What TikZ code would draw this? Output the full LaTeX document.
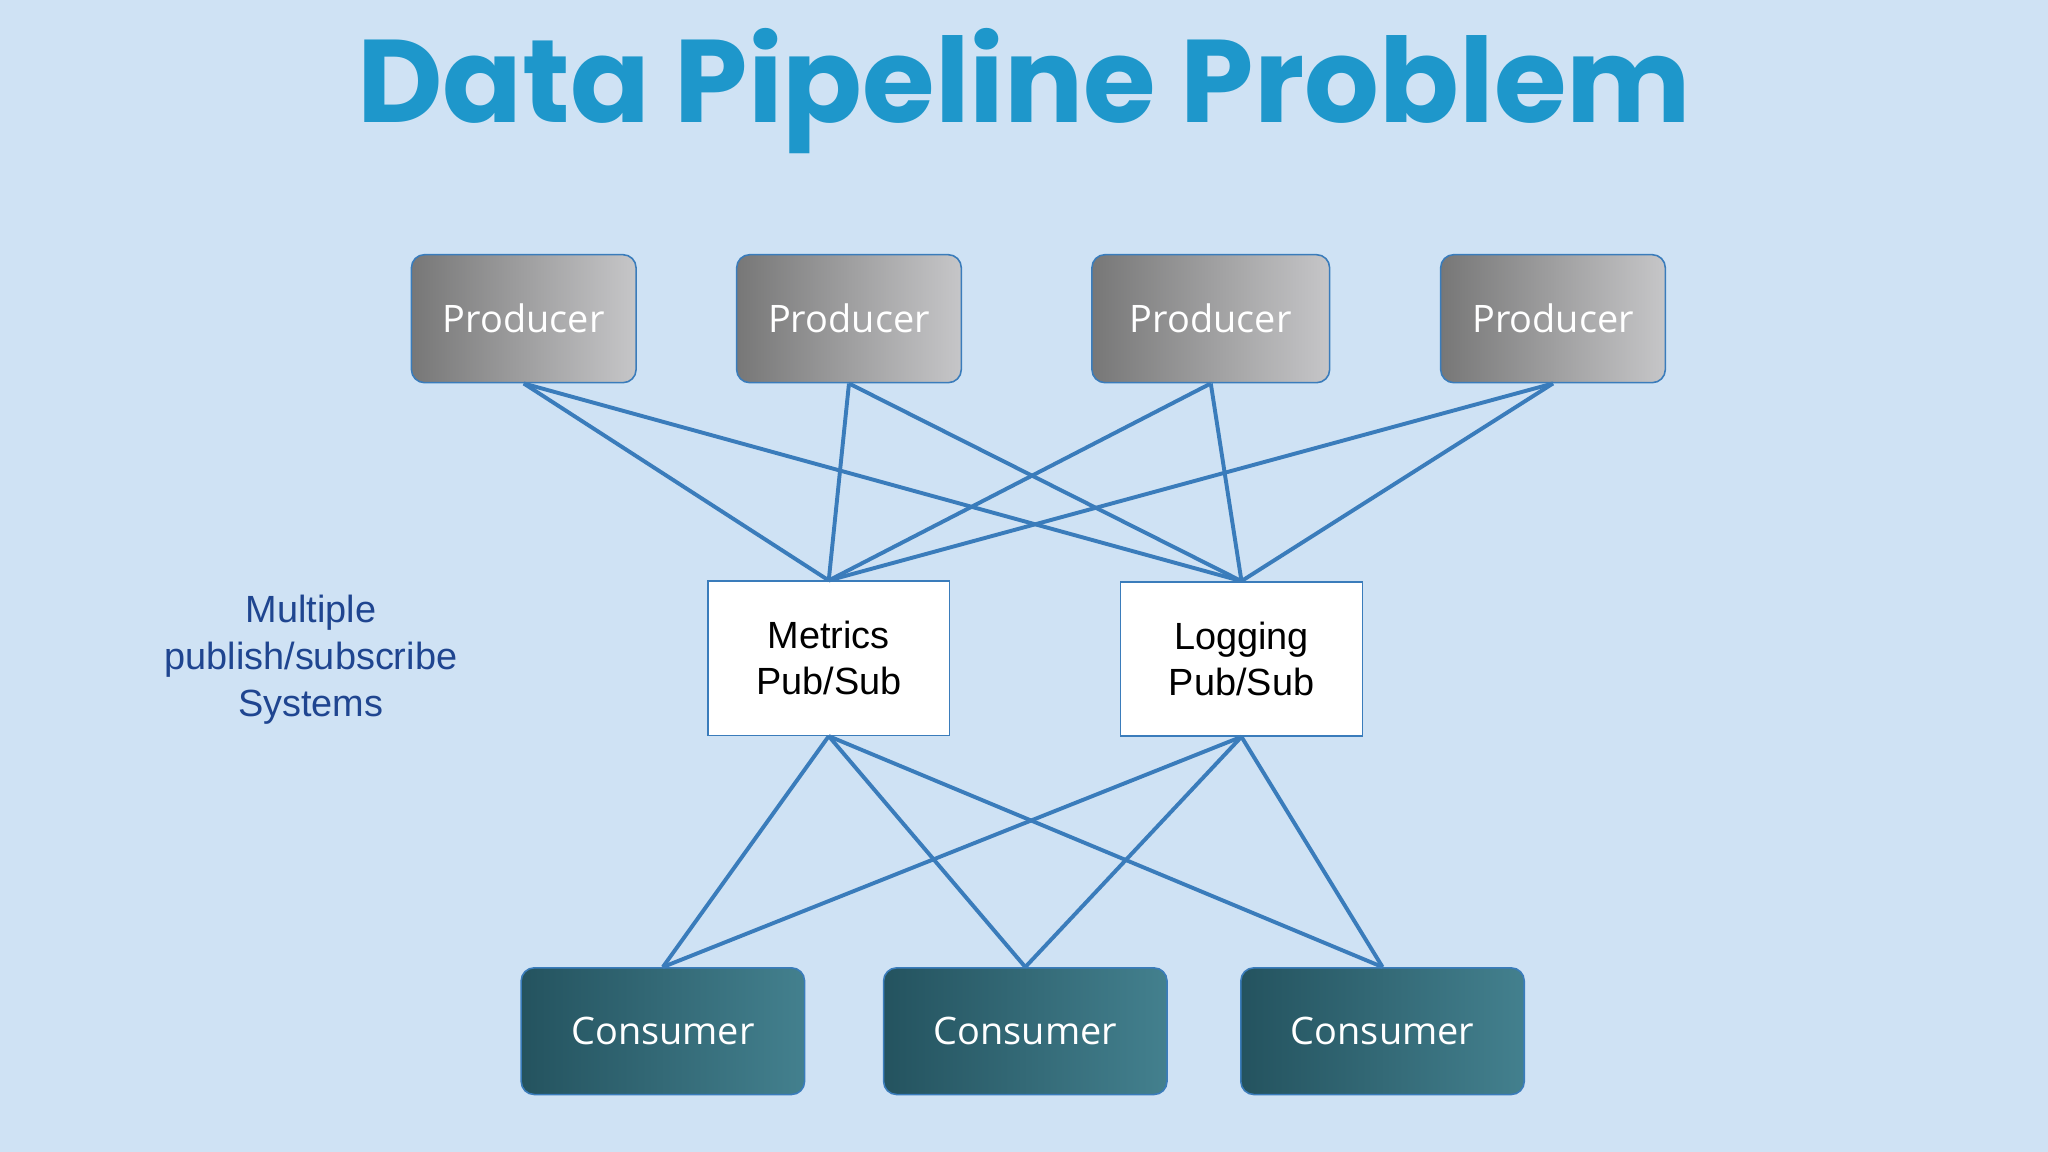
\documentclass[tikz,border=0pt]{standalone}
\usepackage{fontspec}
\setmainfont{Liberation Sans}
\newfontfamily\titlefont{Poppins}
\newfontfamily\boxfont{Open Sans}
\definecolor{bg}{HTML}{CFE2F4}
\definecolor{ttl}{HTML}{1E97CB}
\definecolor{ln}{HTML}{3A7CBB}
\definecolor{lbl}{HTML}{1F4590}
\definecolor{cl}{HTML}{24535F}
\definecolor{cr}{HTML}{43808E}
\definecolor{pl}{HTML}{777777}
\definecolor{pr}{HTML}{C6C6C8}
\begin{document}
\begin{tikzpicture}[x=1pt,y=-1pt,
  prod/.style={draw=ln,line width=1.2pt,rounded corners=10pt,minimum width=172pt,minimum height=98pt,left color=pl,right color=pr,text=white,font=\boxfont\fontsize{29}{34}\selectfont},
  cons/.style={draw=ln,line width=1.2pt,rounded corners=10pt,minimum width=217pt,minimum height=97pt,left color=cl,right color=cr,text=white,font=\boxfont\fontsize{29}{34}\selectfont},
  ps/.style={draw=ln,line width=1.2pt,fill=white,minimum width=185pt,minimum height=118pt,align=center,font=\fontsize{29}{35}\selectfont},
  wire/.style={draw=ln,line width=3pt}]
\fill[bg] (0,0) rectangle (1568,882);
\useasboundingbox (0,0) rectangle (1568,882);
\node[text=ttl,font=\titlefont\bfseries\fontsize{90}{100}\selectfont] (title) at (784,70) {Data Pipeline Problem};
\node[prod] (p1) at (401,244) {Producer};
\node[prod] (p2) at (650,244) {Producer};
\node[prod,minimum width=182pt] (p3) at (927,244) {Producer};
\node[prod] (p4) at (1189,244) {Producer};
\node[ps] (m) at (634.5,504) {Metrics\\Pub/Sub};
\node[ps] (l) at (950.5,504.5) {Logging\\Pub/Sub};
\node[cons] (c1) at (507.5,789.5) {Consumer};
\node[cons] (c2) at (785,789.5) {Consumer};
\node[cons] (c3) at (1058.5,789.5) {Consumer};
\node[text=lbl,align=center,font=\fontsize{29}{36}\selectfont] (t) at (238,505) {Multiple\\publish/subscribe\\Systems};
\foreach \p in {p1,p2,p3,p4}{
  \draw[wire] (\p.south) -- (m.north);
  \draw[wire] (\p.south) -- (l.north);}
\foreach \c in {c1,c2,c3}{
  \draw[wire] (\c.north) -- (m.south);
  \draw[wire] (\c.north) -- (l.south);}
\end{tikzpicture}
\end{document}
